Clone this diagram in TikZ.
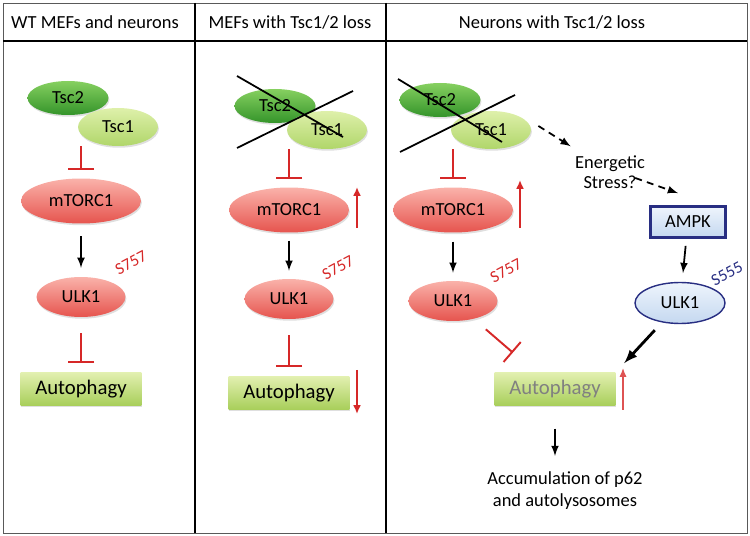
\documentclass[tikz,border=0pt]{standalone}
\usepackage{fontspec}
\setmainfont{Carlito}
\usetikzlibrary{calc,positioning,arrows.meta,shapes.geometric,shadows}

\definecolor{tscdark}{RGB}{52,148,42}
\definecolor{tscmid}{RGB}{134,208,96}
\definecolor{tscpale}{RGB}{222,240,170}
\definecolor{tscpaleb}{RGB}{176,214,106}
\definecolor{redtop}{RGB}{250,178,170}
\definecolor{redbot}{RGB}{230,84,78}
\definecolor{autotop}{RGB}{226,240,176}
\definecolor{autobot}{RGB}{168,206,90}
\definecolor{navy}{RGB}{40,46,130}
\definecolor{bluetop}{RGB}{238,244,252}
\definecolor{bluebot}{RGB}{196,216,240}
\definecolor{inhred}{RGB}{214,40,40}

\tikzset{
  every node/.style={font=\fontsize{10.5}{12.5}\selectfont},
  softshadow/.style={drop shadow={opacity=.25,shadow xshift=.5pt,shadow yshift=-1pt}},
  tsctwo/.style={ellipse,minimum width=1.62cm,minimum height=.68cm,top color=tscmid,bottom color=tscdark,softshadow},
  tscone/.style={ellipse,minimum width=1.6cm,minimum height=.76cm,top color=tscpale,bottom color=tscpaleb,softshadow},
  mtor/.style={ellipse,minimum width=2.4cm,minimum height=.9cm,top color=redtop,bottom color=redbot,softshadow},
  ulk/.style={ellipse,minimum width=1.78cm,minimum height=.8cm,top color=redtop,bottom color=redbot,softshadow},
  ulkblue/.style={ellipse,draw=navy,thick,minimum width=1.8cm,minimum height=.82cm,top color=bluetop,bottom color=bluebot},
  autobox/.style={rectangle,minimum width=2.42cm,minimum height=.66cm,top color=autotop,bottom color=autobot,softshadow,font=\fontsize{11.8}{14}\selectfont},
  ampkbox/.style={rectangle,draw=navy,line width=1.6pt,minimum width=1.5cm,minimum height=.62cm,top color=bluetop,bottom color=bluebot},
  site/.style={rotate=28,text=inhred,font=\fontsize{9.5}{11}\selectfont,inner sep=0pt},
  inhibit/.style={draw=inhred,line width=1.1pt,-{Bar[width=15pt,line width=1.1pt]}},
  act/.style={line width=1pt,-latex},
  dasharrow/.style={line width=1pt,dash pattern=on 4pt off 3pt,-latex},
  upmark/.style={draw=inhred,line width=1.1pt,-{Latex[length=5pt,width=4.5pt]}},
  cross/.style={line width=1pt},
}

\begin{document}
\begin{tikzpicture}[x=0.02cm,y=-0.02cm]
\useasboundingbox (0,0) rectangle (750,536);

%frame and headers
\draw[gray!70!black] (3,3) rectangle (747,533);
\draw[line width=1pt] (3,41) -- (747,41);
\draw[line width=1.4pt] (195,3) -- (195,533);
\draw[line width=1.4pt] (386,3) -- (386,533);
\node (headA) at (95,22) {WT MEFs and neurons};
\node (headB) at (290,22) {MEFs with Tsc1/2 loss};
\node (headC) at (552,22) {Neurons with Tsc1/2 loss};

%panel 1
\node[tsctwo] (tscA2) at (68,98) {Tsc2};
\node[tscone] (tscA1) at (118,127) {Tsc1};
\node[mtor] (mtorA) at (81,201) {mTORC1};
\node[ulk] (ulkA) at (81,297) {ULK1};
\node[site] (siteA) at (131,263) {S757};
\node[autobox] (autoA) at (81,389) {Autophagy};
\draw[inhibit,shorten >=4.5pt] (mtorA.north |- tscA1.south) -- (mtorA.north);
\draw[act,shorten <=7pt,shorten >=5pt] (mtorA) -- (ulkA);
\draw[inhibit,shorten <=9pt,shorten >=5pt] (ulkA) -- (autoA);

%panel 2
\node[tsctwo] (tscB2) at (275,106) {Tsc2};
\node[tscone] (tscB1) at (327,130) {Tsc1};
\draw[cross] (237,76) -- (343,137);
\draw[cross] (237,148) -- (353,91);
\node[mtor] (mtorB) at (289,210) {mTORC1};
\node[ulk] (ulkB) at (289,299) {ULK1};
\node[site] (siteB) at (338,268) {S757};
\node[autobox] (autoB) at (289,393) {Autophagy};
\draw[inhibit,shorten >=4.5pt] (mtorB.north |- tscB1.south) -- (mtorB.north);
\draw[act,shorten <=4.5pt,shorten >=4.5pt] (mtorB) -- (ulkB);
\draw[inhibit,shorten <=9pt,shorten >=5pt] (ulkB) -- (autoB);
\draw[upmark] (357,228) -- (357,187);
\draw[upmark] (357,370) -- (357,414);

%panel 3
\node[tsctwo] (tscC2) at (440,100) {Tsc2};
\node[tscone] (tscC1) at (491,130) {Tsc1};
\draw[cross] (398,79) -- (502,142);
\draw[cross] (400,152) -- (515,95);
\node[mtor] (mtorC) at (453,210) {mTORC1};
\node[ulk] (ulkC) at (453,301) {ULK1};
\node[site] (siteC) at (506,271) {S757};
\node[autobox,text=gray] (autoC) at (555,389) {Autophagy};
\draw[inhibit,shorten >=4.5pt] (mtorC.north |- tscC1.south) -- (mtorC.north);
\draw[act,shorten <=5pt,shorten >=4.5pt] (mtorC) -- (ulkC);
\draw[inhibit,shorten <=9pt,shorten >=17pt] (ulkC) -- (autoC);
\draw[upmark] (520,228) -- (520,180);

%energy stress branch
\node[align=center,inner sep=0pt,font=\fontsize{10.5}{11.5}\selectfont] (stress) at (610,172) {Energetic\\Stress?};
\node[ampkbox] (ampk) at (688,222) {AMPK};
\node[ulkblue] (ulkD) at (680,303) {ULK1};
\node[site,text=navy] (siteD) at (727,274) {S555};
\draw[dasharrow] ([xshift=4pt,yshift=2.3pt]tscC1.east) -- ([xshift=-2.3pt,yshift=5pt]stress.north west);
\draw[dasharrow] ([xshift=-5.7pt,yshift=-3.4pt]stress.east) -- ([xshift=-5.7pt,yshift=6.8pt]ampk.north);
\draw[act,shorten <=4pt,shorten >=5pt] (ampk) -- (ulkD);
\draw[line width=1.6pt,-latex,shorten <=6pt,shorten >=7pt] (ulkD) -- (autoC.north east);
\draw[draw=inhred!80,line width=.7pt,-{Latex[length=5pt,width=4pt]}] (623,410) -- (623,368);

%outcome
\node[align=center,inner sep=0pt] (accum) at (565,491) {Accumulation of p62\\and autolysosomes};
\draw[act,shorten <=13pt,shorten >=9pt] (autoC.south) -- (autoC.south |- accum.north);

\end{tikzpicture}
\end{document}
